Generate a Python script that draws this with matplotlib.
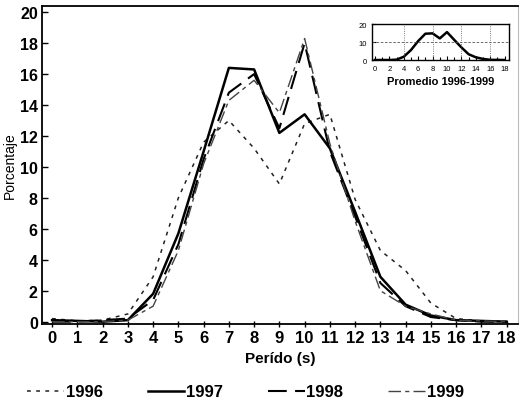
import matplotlib
matplotlib.use('Agg')
import matplotlib.pyplot as plt
from matplotlib.lines import Line2D

plt.rcParams['font.family'] = ['Liberation Sans', 'DejaVu Sans']

# periodo (s)
periods = list(range(0, 19))

# porcentaje por año
y1996 = [0.2, 0.05, 0.1, 0.5, 2.9, 8.0, 11.6, 13.0, 11.2, 8.9, 12.8, 13.4, 7.9, 4.6, 3.3, 1.2, 0.2, 0.05, 0.0]
y1997 = [0.1, 0.05, 0.0, 0.1, 1.8, 5.7, 11.0, 16.4, 16.3, 12.2, 13.4, 11.2, 7.1, 2.9, 1.1, 0.4, 0.1, 0.05, 0.0]
y1998 = [0.0, 0.0, 0.1, 0.2, 1.4, 5.0, 10.5, 14.8, 16.0, 12.5, 18.0, 11.0, 6.8, 2.5, 1.0, 0.3, 0.1, 0.0, 0.0]
y1999 = [0.0, 0.0, 0.0, 0.1, 1.0, 4.6, 10.2, 14.3, 15.6, 13.5, 18.3, 11.5, 6.5, 2.0, 1.0, 0.5, 0.1, 0.05, 0.0]
# curva del recuadro "Promedio 1996-1999"
y_prom = [0.0, 0.0, 0.0, 0.2, 1.8, 5.5, 10.5, 14.6, 14.8, 12.0, 15.5, 11.2, 7.0, 3.2, 1.5, 0.6, 0.1, 0.05, 0.0]

series = [
    ('1996', y1996, dict(color='#222222', lw=1.1, ls=(0, (2.5, 3.5)))),
    ('1997', y1997, dict(color='black', lw=1.8, ls='-')),
    ('1998', y1998, dict(color='black', lw=1.5, ls=(0, (9, 4)))),
    ('1999', y1999, dict(color='#444444', lw=1.0, ls=(0, (9, 3, 3, 3)))),
]

fig = plt.figure(figsize=(5.2, 4.06), dpi=100)
ax = fig.add_axes([42 / 520, 1 - 325 / 406, (518 - 42) / 520, (325 - 7) / 406])

for name, ys, st in series:
    ax.plot(periods, ys, **st)

ax.set_xlim(-0.4, 18.45)
ax.set_ylim(-0.15, 20.4)
ax.set_xticks(periods)
ax.set_yticks(range(0, 21, 2))
ax.tick_params(axis='x', direction='inout', length=5, width=1, labelsize=12, pad=2)
ax.tick_params(axis='y', direction='in', length=4, width=1, labelsize=11.5, pad=3)
for lab in ax.get_xticklabels() + ax.get_yticklabels():
    lab.set_fontweight('bold')
for s in ['left', 'bottom', 'top']:
    ax.spines[s].set_linewidth(1.3)
ax.spines['right'].set_color('#bbbbbb')
ax.spines['right'].set_linewidth(0.8)

ax.set_xlabel('Perído (s)', fontsize=11, fontweight='bold', labelpad=4)
ax.set_ylabel('Porcentaje', fontsize=10, labelpad=2)

# recuadro con el promedio
ins = fig.add_axes([372 / 520, 1 - 61 / 406, (509 - 372) / 520, (61 - 25) / 406])
ins.plot(periods, y_prom, color='black', lw=1.8)
ins.set_xlim(-0.4, 18.6)
ins.set_ylim(0, 20)
ins.set_xticks(range(0, 19, 2))
ins.set_xticks(periods, minor=True)
ins.set_yticks([0, 10, 20])
ins.tick_params(which='both', direction='in', labelsize=5.5, length=3, width=0.8, pad=3.5)
ins.tick_params(which='minor', length=2)
for x in [4, 8, 12, 16]:
    ins.axvline(x, color='#555555', lw=0.6, ls=':')
ins.axhline(10, color='#555555', lw=0.6, ls=(0, (3, 2)))
for s in ins.spines.values():
    s.set_linewidth(1.0)
ins.set_xlabel('Promedio 1996-1999', fontsize=8, fontweight='bold', labelpad=3)

handles = [Line2D([], [], **st) for _, _, st in series]
labels = [name for name, _, _ in series]
fig.legend(handles, labels, loc='center', bbox_to_anchor=(0.472, 1 - 393 / 406), ncol=4,
           frameon=False, handlelength=2.2, handletextpad=0.1, columnspacing=2.7,
           prop={'size': 12, 'weight': 'bold'})

fig.savefig('out.png', dpi=100)
